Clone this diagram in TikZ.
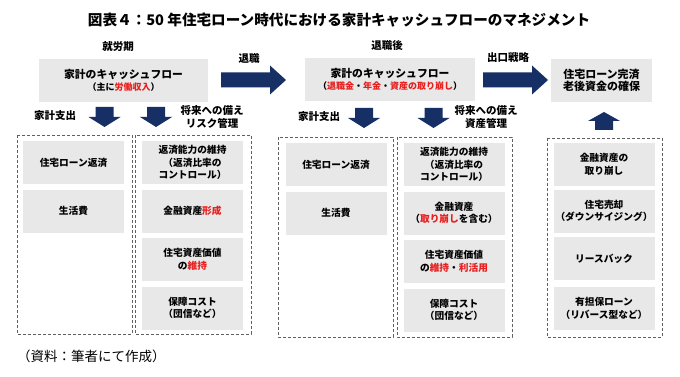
\documentclass[tikz,border=0pt]{standalone}
\usepackage{fontspec}
\setmainfont{Noto Sans CJK JP}
\definecolor{navy}{RGB}{22,47,100}
\definecolor{boxgray}{RGB}{232,232,232}
\definecolor{dashgray}{RGB}{96,96,96}
\definecolor{hl}{RGB}{232,30,30}
\newcommand{\hlt}[1]{\textcolor{hl}{#1}}
\tikzset{
  rarr/.pic={\fill[navy] (0,-7.5) -- (49,-7.5) -- (49,-14.5) -- (65,0) -- (49,14.5) -- (49,7.5) -- (0,7.5) -- cycle;},
  darr/.pic={\fill[navy] (-9,0) -- (9,0) -- (9,10) -- (16,10) -- (0,20) -- (-16,10) -- (-9,10) -- cycle;},
  uarr/.pic={\fill[navy] (0,0) -- (16,9) -- (9,9) -- (9,18) -- (-9,18) -- (-9,9) -- (-16,9) -- cycle;}
}
\begin{document}
\begin{tikzpicture}[x=1pt,y=-1pt,
  every node/.style={inner sep=0pt},
  topbox/.style={fill=boxgray, minimum height=43pt, align=center},
  inbox/.style={fill=boxgray, minimum width=101pt, minimum height=43pt, align=center, font=\bfseries\fontsize{9.7}{12.5}\selectfont},
  dbox/.style={draw=dashgray, dash pattern=on 3pt off 2pt, line width=0.9pt},
  lbl/.style={font=\bfseries\fontsize{10.5}{12.5}\selectfont, align=center}
]
\useasboundingbox[fill=white] (0,0) rectangle (680,377);

% title
\node[font=\bfseries\fontsize{14.6}{16}\selectfont] (title) at (339,20) {図表４：50 年住宅ローン時代における家計キャッシュフローのマネジメント};

% phase labels
\node[lbl] (p1) at (118,47) {就労期};
\node[lbl] (p2) at (387,46) {退職後};
\node[lbl] (t1) at (249,59) {退職};
\node[lbl] (t2) at (508,58) {出口戦略};

% top boxes
\node[topbox, minimum width=169pt] (A) at (123.5,80.5) {\bfseries\fontsize{10.8}{13}\selectfont 家計のキャッシュフロー\\\bfseries\fontsize{9}{13}\selectfont （主に\hlt{労働収入}）};
\node[topbox, minimum width=170pt] (B) at (390,79.5) {\bfseries\fontsize{10.8}{13}\selectfont 家計のキャッシュフロー\\\bfseries\fontsize{9}{13}\selectfont （\hlt{退職金}・\hlt{年金}・\hlt{資産の取り崩し}）};
\node[topbox, minimum width=101pt] (C) at (601.5,80.5) {\bfseries\fontsize{11}{17}\selectfont 住宅ローン完済\\\bfseries\fontsize{11}{17}\selectfont 老後資金の確保};

% block arrows
\pic at (221,80) {rarr};
\pic at (483,80) {rarr};
\pic at (104.5,107) {darr};
\pic at (156,107) {darr};
\pic at (364,108) {darr};
\pic at (433.5,108) {darr};
\pic at (604,112) {uarr};

% arrow labels
\node[lbl] (e1) at (55,116) {家計支出};
\node[lbl] (f1) at (212,117) {将来への備え\\リスク管理};
\node[lbl] (e2) at (319,117) {家計支出};
\node[lbl] (f2) at (486,117) {将来への備え\\資産管理};

% dashed groups
\draw[dbox] (17,135) rectangle (132,334);
\draw[dbox] (135,135) rectangle (251,334);
\draw[dbox] (278,137) rectangle (393,337);
\draw[dbox] (397,137) rectangle (512,337);
\draw[dbox] (547,138) rectangle (662,337);

% left column boxes
\node[inbox] (L1a) at (73.5,162.5) {住宅ローン返済};
\node[inbox] (L1b) at (73.5,211) {生活費};
\node[inbox] (L2a) at (192.5,162.5) {返済能力の維持\\（返済比率の\\コントロール）};
\node[inbox] (L2b) at (192.5,211) {金融資産\hlt{形成}};
\node[inbox] (L2c) at (192.5,259.5) {住宅資産価値\\の\hlt{維持}};
\node[inbox] (L2d) at (192.5,308) {保障コスト\\（団信など）};

% middle column boxes
\node[inbox] (M1a) at (336,164.5) {住宅ローン返済};
\node[inbox] (M1b) at (336,213) {生活費};
\node[inbox] (M2a) at (454,164.5) {返済能力の維持\\（返済比率の\\コントロール）};
\node[inbox] (M2b) at (454,213) {金融資産\\（\hlt{取り崩し}を含む）};
\node[inbox] (M2c) at (454,261.5) {住宅資産価値\\の\hlt{維持}・\hlt{利活用}};
\node[inbox] (M2d) at (454,310) {保障コスト\\（団信など）};

% right column boxes
\node[inbox] (R1) at (604,164.5) {金融資産の\\取り崩し};
\node[inbox] (R2) at (604,211) {住宅売却\\（ダウンサイジング）};
\node[inbox] (R3) at (604,258.5) {リースバック};
\node[inbox] (R4) at (604,308.5) {有担保ローン\\（リバース型など）};

% source
\node[anchor=west, font=\fontsize{13.5}{15}\selectfont] (src) at (17,356) {（資料：筆者にて作成）};
\end{tikzpicture}
\end{document}
